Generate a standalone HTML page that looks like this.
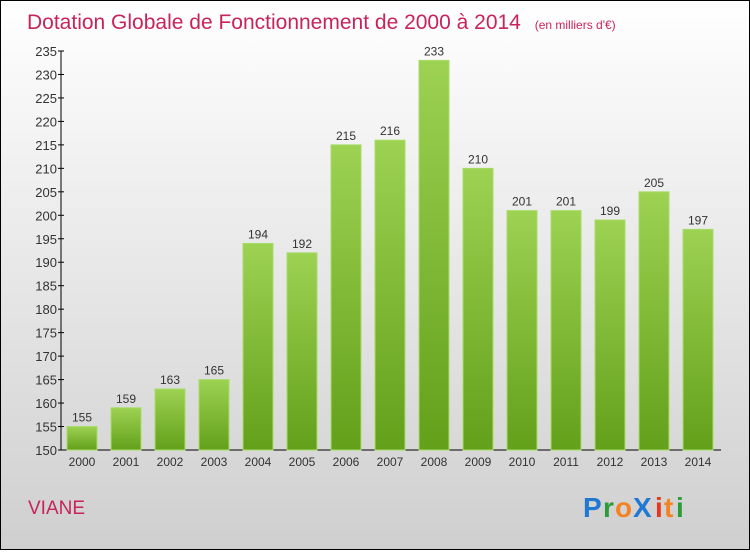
<!DOCTYPE html>
<html><head><meta charset="utf-8"><style>
body{margin:0}
#c{width:750px;height:550px;position:relative;font-family:"Liberation Sans",sans-serif}
</style></head><body>
<div id="c">
<svg width="750" height="550" xmlns="http://www.w3.org/2000/svg">
<defs>
<linearGradient id="bg" x1="0" y1="0" x2="0" y2="1"><stop offset="0" stop-color="#ffffff"/><stop offset="1" stop-color="#cfcfcf"/></linearGradient>
<linearGradient id="bar" x1="0" y1="0" x2="0" y2="1"><stop offset="0" stop-color="#9dd252"/><stop offset="1" stop-color="#63a01a"/></linearGradient>
</defs>
<rect x="0.5" y="0.5" width="749" height="549" fill="url(#bg)" stroke="#000"/>
<text x="27" y="29" font-size="21" fill="#c8245c">Dotation Globale de Fonctionnement de 2000 à 2014 <tspan font-size="12" dx="8">(en milliers d'€)</tspan></text>
<g id="axes"></g>
<g id="bars"></g>
<text x="28" y="514" font-size="19" fill="#c8245c">VIANE</text>
<g font-size="28" font-weight="bold">
<text x="583" y="517" fill="#1f78d1">P</text><text x="603" y="517" fill="#2a9d3a">r</text><text x="615" y="517" fill="#f58220">o</text><text x="633" y="517" fill="#1f78d1">X</text><text x="655" y="517" fill="#e8351f">i</text><text x="664" y="517" fill="#f58220">t</text><text x="676" y="517" fill="#2a9d3a">i</text>
</g>
</svg>
</div>
<script>
const categories=["2000","2001","2002","2003","2004","2005","2006","2007","2008","2009","2010","2011","2012","2013","2014"];
const values=[155,159,163,165,194,192,215,216,233,210,201,201,199,205,197];
const yTicks=[150,155,160,165,170,175,180,185,190,195,200,205,210,215,220,225,230,235];
const NS="http://www.w3.org/2000/svg";
const y=v=>450-(v-150)*(399/85);
const x=i=>67+i*44;
function mk(t,a,p){const e=document.createElementNS(NS,t);for(const k in a)e.setAttribute(k,a[k]);p.appendChild(e);return e;}
const ax=document.getElementById('axes'),bg=document.getElementById('bars');
let l=mk('line',{x1:61,y1:y(235),x2:61,y2:450,stroke:'#000'},ax);


l=mk('line',{x1:61,y1:450,x2:721,y2:450,stroke:'#000'},ax);


yTicks.forEach(v=>{
 const t=mk('line',{x1:58,x2:64,y1:y(v),y2:y(v),stroke:'#000'},ax);
 
 
 const tx=mk('text',{x:57,y:y(v)+5,'font-size':13,fill:'#333','text-anchor':'end'},ax);
 tx.textContent=v;
 
 
});
categories.forEach((c,i)=>{
 const r=mk('rect',{x:x(i),y:y(values[i]),width:30,height:450-y(values[i]),fill:'url(#bar)',stroke:'#a8dc6a','stroke-width':1},bg);
 
 
 const v=mk('text',{x:x(i)+15,y:y(values[i])-5,'font-size':12,fill:'#333','text-anchor':'middle'},bg);
 v.textContent=values[i];
 
 
 const cl=mk('text',{x:x(i)+15,y:466,'font-size':12,fill:'#333','text-anchor':'middle'},bg);
 cl.textContent=c;
 
 
});
</script>
</body></html>
